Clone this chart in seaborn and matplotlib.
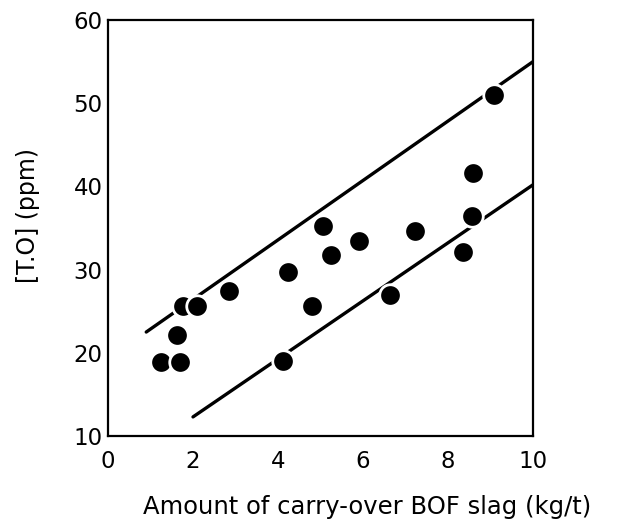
import matplotlib
matplotlib.use("Agg")
import matplotlib.pyplot as plt
import seaborn as sns
import pandas as pd

# Data
slag_x = [1.25, 1.69, 1.63, 1.76, 2.10, 2.85, 4.24, 4.11, 4.79, 5.07,
          5.24, 5.91, 6.64, 7.23, 8.36, 8.57, 8.58, 9.09]
total_o = [18.9, 18.9, 22.2, 25.6, 25.6, 27.4, 29.7, 19.0, 25.6, 35.3,
           31.7, 33.5, 27.0, 34.6, 32.1, 36.4, 41.6, 51.0]

upper_x = [0.9, 10.0]
upper_y = [22.5, 55.0]
lower_x = [2.0, 10.0]
lower_y = [12.3, 40.2]

x_ticks = [0, 2, 4, 6, 8, 10]
y_ticks = [10, 20, 30, 40, 50, 60]

sns.set_theme(style="white")
plt.rcParams['font.family'] = ['DejaVu Sans']

fig = plt.figure(figsize=(6.22, 5.26), dpi=100)
ax = fig.add_axes([0.1736, 0.171, 0.857 - 0.1736, 0.962 - 0.171])

df_pts = pd.DataFrame({"x": slag_x, "y": total_o})
df_up = pd.DataFrame({"x": upper_x, "y": upper_y})
df_lo = pd.DataFrame({"x": lower_x, "y": lower_y})

sns.lineplot(data=df_up, x="x", y="y", ax=ax, color="black", linewidth=2.4, zorder=2)
sns.lineplot(data=df_lo, x="x", y="y", ax=ax, color="black", linewidth=2.4, zorder=2)
sns.scatterplot(data=df_pts, x="x", y="y", ax=ax, color="black", s=240,
                edgecolor="white", linewidth=2.0, zorder=3)

ax.set_xlim(0, 10)
ax.set_ylim(10, 60)
ax.set_xticks(x_ticks)
ax.set_yticks(y_ticks)
ax.set_xticklabels([str(v) for v in x_ticks], fontsize=16.5)
ax.set_yticklabels([str(v) for v in y_ticks], fontsize=16.5)
ax.tick_params(axis="both", direction="in", length=7, width=1.2, color="black",
               labelcolor="black")
ax.tick_params(axis="x", pad=10)
ax.tick_params(axis="y", pad=4)
for sp in ax.spines.values():
    sp.set_visible(True)
    sp.set_color("black")
    sp.set_linewidth(1.6)

ax.set_xlabel("Amount of carry-over BOF slag (kg/t)", fontsize=17.5, color="black")
ax.set_ylabel("[T.O] (ppm)", fontsize=17, color="black")
ax.yaxis.set_label_coords(-0.188, 0.53)
ax.xaxis.set_label_coords(0.61, -0.17)
ax.xaxis.label.set_verticalalignment("center")
ax.yaxis.label.set_verticalalignment("center")
ax.grid(False)

fig.savefig("out.png", dpi=100, facecolor="white")
